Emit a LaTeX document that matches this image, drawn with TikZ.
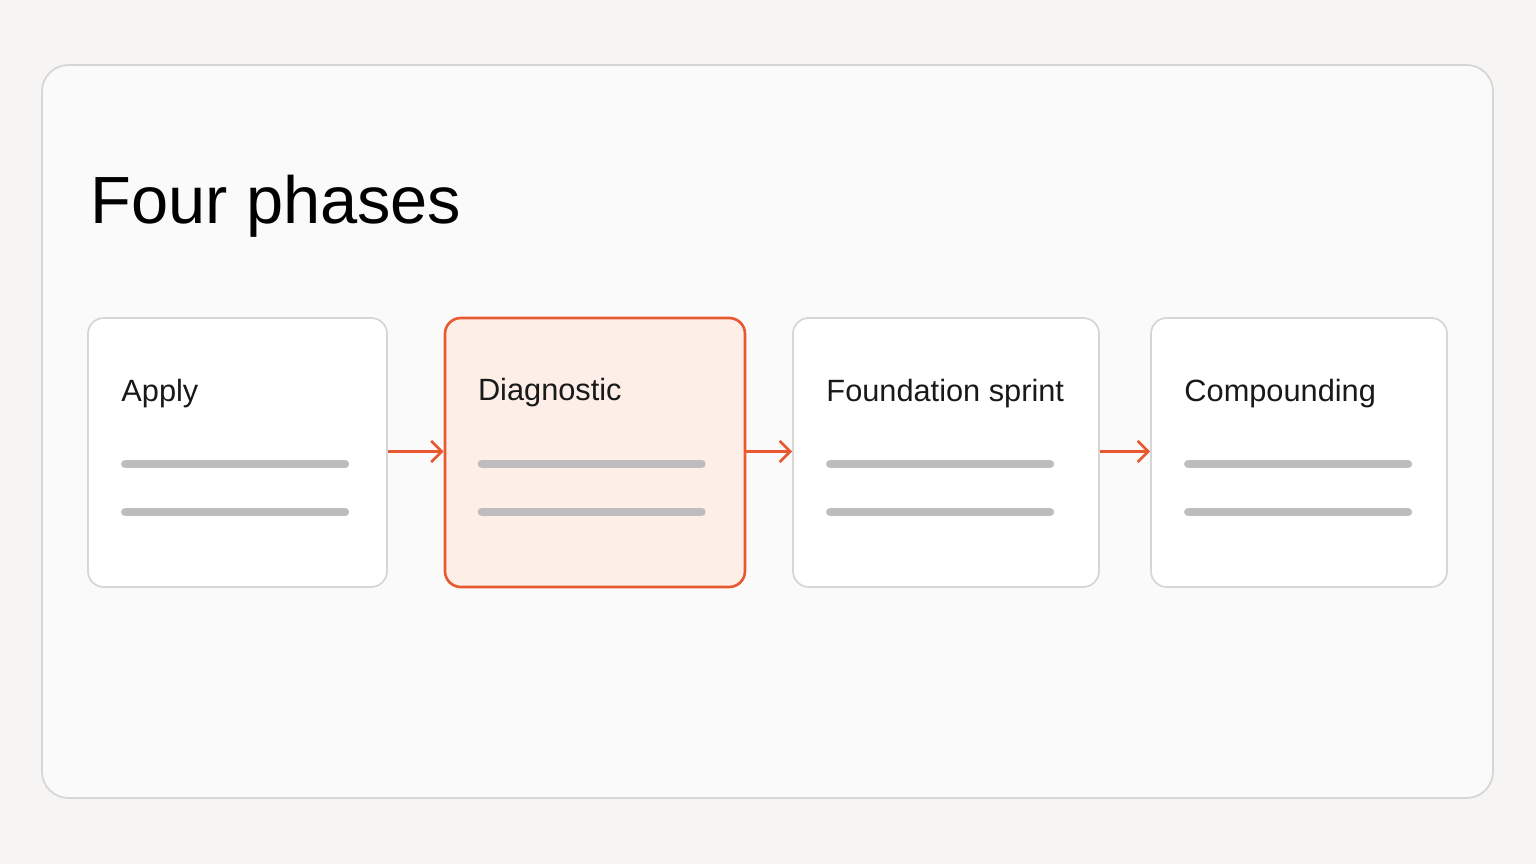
\documentclass[tikz,border=0pt]{standalone}
\usepackage{fontspec}
\setmainfont{Liberation Sans}
\usetikzlibrary{arrows.meta,positioning}
\definecolor{pagebg}{HTML}{F6F5F3}
\definecolor{cardbg}{HTML}{FAFAFA}
\definecolor{cardline}{HTML}{D6D6D6}
\definecolor{accent}{HTML}{E8592F}
\definecolor{accentbg}{HTML}{FDEEE8}
\definecolor{barcol}{HTML}{BDBDBD}
\tikzset{
  phase/.style={draw=cardline,fill=white,line width=1pt,rounded corners=9pt,
    minimum height=269*0.02cm,inner sep=0pt},
  active/.style={phase,draw=accent,fill=accentbg,line width=1.5pt},
  phasetext/.style={font=\fontsize{17.5}{21}\selectfont,text=black!90,anchor=west,inner sep=0pt},
  linebar/.style={barcol,line width=8*0.02cm,line cap=round},
  flow/.style={accent,line width=1.5pt,-{Straight Barb[length=6pt,width=12pt]}}
}
\begin{document}
\begin{tikzpicture}[x=0.02cm,y=-0.02cm]
   \fill[pagebg] (0,0) rectangle (1536,864);
   \useasboundingbox (0,0) rectangle (1536,864);
   \draw[cardline,fill=cardbg,line width=1pt,rounded corners=15pt] (42,65) rectangle (1493,798);
   \node[anchor=base west,inner sep=0pt,font=\fontsize{38}{44}\selectfont] (title) at (90,224) {Four phases};
   % phase cards
   \node[phase,minimum width=299*0.02cm] (apply) at (237.5,452.5) {};
   \node[active,minimum width=300*0.02cm] (diag) at (595,452.5) {};
   \node[phase,minimum width=306*0.02cm] (found) at (946,452.5) {};
   \node[phase,minimum width=296*0.02cm] (comp) at (1299,452.5) {};
   \foreach \n/\t in {apply/Apply,diag/Diagnostic,found/Foundation sprint,comp/Compounding}{
     \node[phasetext] at ([xshift=34*0.02cm,yshift=-76*0.02cm]\n.north west) {\t};
     \draw[linebar] ([xshift=38*0.02cm,yshift=-147*0.02cm]\n.north west) -- ++(220,0);
     \draw[linebar] ([xshift=38*0.02cm,yshift=-195*0.02cm]\n.north west) -- ++(220,0);
   }
   % arrows
   \draw[flow] ([yshift=1*0.02cm]apply.east) -- ([yshift=1*0.02cm]diag.west);
   \draw[flow] ([yshift=1*0.02cm]diag.east) -- ([yshift=1*0.02cm]found.west);
   \draw[flow] ([yshift=1*0.02cm]found.east) -- ([yshift=1*0.02cm]comp.west);
\end{tikzpicture}
\end{document}
